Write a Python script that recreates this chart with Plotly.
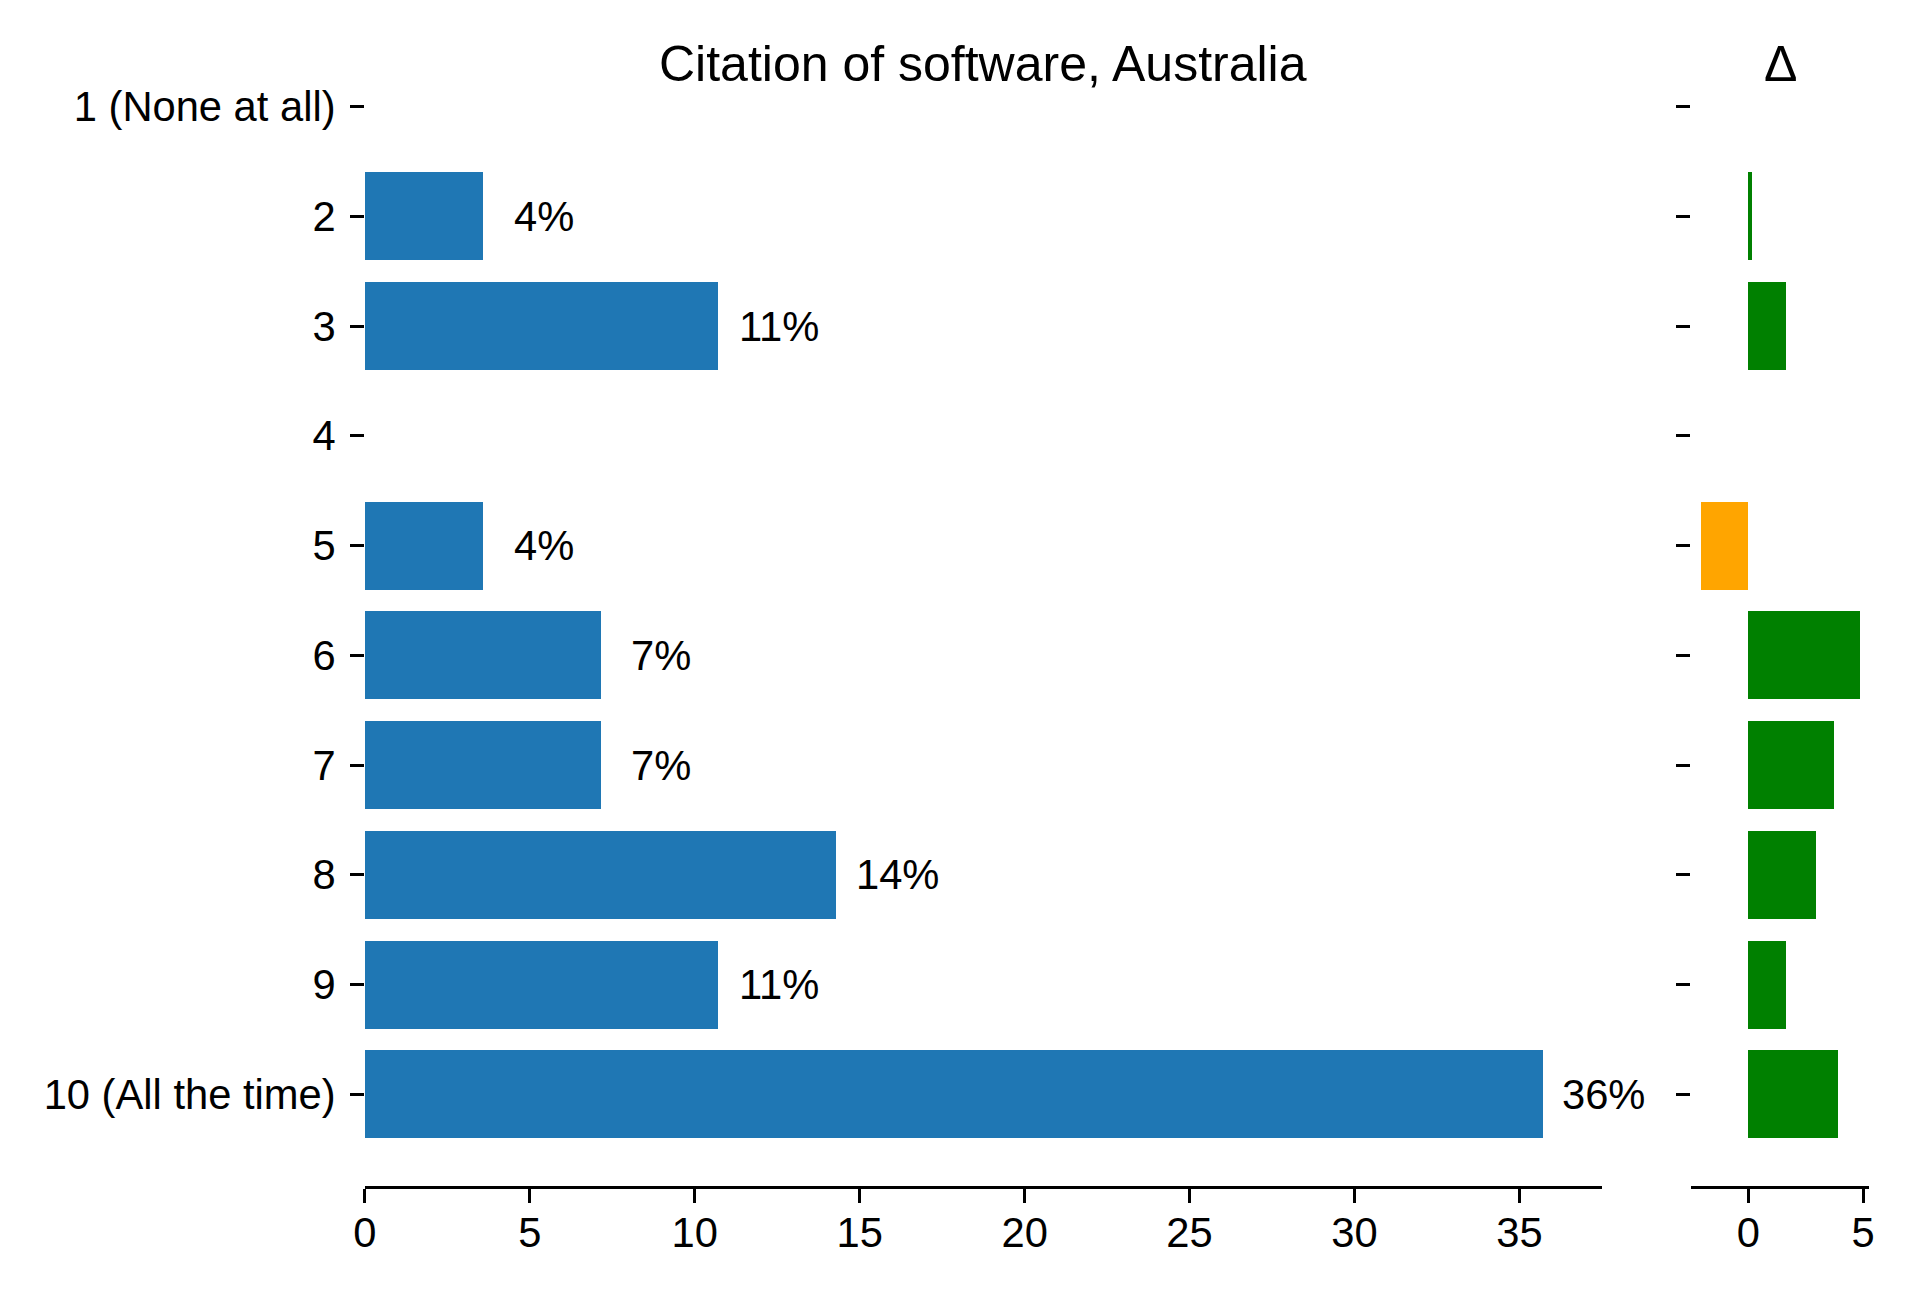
import plotly.graph_objects as go

categories = ["1 (None at all)", "2", "3", "4", "5", "6", "7", "8", "9", "10 (All the time)"]
percent = [0, 3.57, 10.71, 0, 3.57, 7.14, 7.14, 14.29, 10.71, 35.71]
delta = [0, 0.17, 1.65, 0, -2.07, 4.86, 3.74, 2.95, 1.65, 3.91]

FONT = "Liberation Sans, Arial, Helvetica, sans-serif"
TICK = 41.7
W, H = 1920, 1300

# pixel boxes of the two panels
MAIN_X = (348, 1596)
DELTA_X = (1686, 1866)
PLOT_Y = (7, 1178)

fig = go.Figure()

fig.add_trace(go.Bar(
    x=percent, y=categories, orientation="h",
    marker=dict(color="#1f77b4", line=dict(width=0)),
    width=0.8, xaxis="x", yaxis="y", showlegend=False, hoverinfo="skip",
))

delta_colors = ["green" if d >= 0 else "orange" for d in delta]
fig.add_trace(go.Bar(
    x=delta, y=categories, orientation="h",
    marker=dict(color=delta_colors, line=dict(width=0)),
    width=0.8, xaxis="x2", yaxis="y2", showlegend=False, hoverinfo="skip",
))

# percentage labels to the right of each bar (y given as category index)
for i, v in enumerate(percent):
    if v > 0:
        fig.add_annotation(
            x=v, y=i, xref="x", yref="y", text=f"{v:.0f}%",
            showarrow=False, xanchor="center", yanchor="middle", xshift=61,
            font=dict(family=FONT, size=TICK, color="black"),
        )

y_range = [9.835, -0.835]
y_dom = [1 - PLOT_Y[1] / H, 1 - PLOT_Y[0] / H]
axis_common = dict(
    showgrid=False, zeroline=False, ticks="outside", ticklen=14, tickwidth=3,
    tickcolor="black", tickfont=dict(family=FONT, size=TICK, color="black"),
)

fig.update_layout(
    width=W, height=H, autosize=False,
    margin=dict(l=0, r=0, t=0, b=0),
    paper_bgcolor="white", plot_bgcolor="white",
    bargap=0,
    xaxis=dict(domain=[MAIN_X[0] / W, MAIN_X[1] / W], range=[0, 37.5], dtick=5,
               showline=True, linecolor="black", linewidth=3, anchor="y",
               ticklabelstandoff=-6, **axis_common),
    yaxis=dict(domain=y_dom, range=y_range,
               type="category", categoryorder="array", categoryarray=categories,
               showline=False, anchor="x", ticklabelstandoff=6, **axis_common),
    xaxis2=dict(domain=[DELTA_X[0] / W, DELTA_X[1] / W], range=[-2.49, 5.28], dtick=5,
                showline=True, linecolor="black", linewidth=3, anchor="y2",
                ticklabelstandoff=-6, **axis_common),
    yaxis2=dict(domain=y_dom, range=y_range,
                type="category", categoryorder="array", categoryarray=categories,
                showline=False, anchor="x2", showticklabels=False, **axis_common),
)

fig.add_annotation(
    x=sum(MAIN_X) / 2 / W, y=1 - 56 / H, xref="paper", yref="paper",
    text="Citation of software, Australia", showarrow=False,
    xanchor="center", yanchor="middle",
    font=dict(family=FONT, size=50, color="black"),
)
fig.add_annotation(
    x=sum(DELTA_X) / 2 / W, y=1 - 56 / H, xref="paper", yref="paper",
    text="Δ", showarrow=False, xanchor="center", yanchor="middle",
    font=dict(family=FONT, size=50, color="black"),
)

fig.write_html("out.html")
